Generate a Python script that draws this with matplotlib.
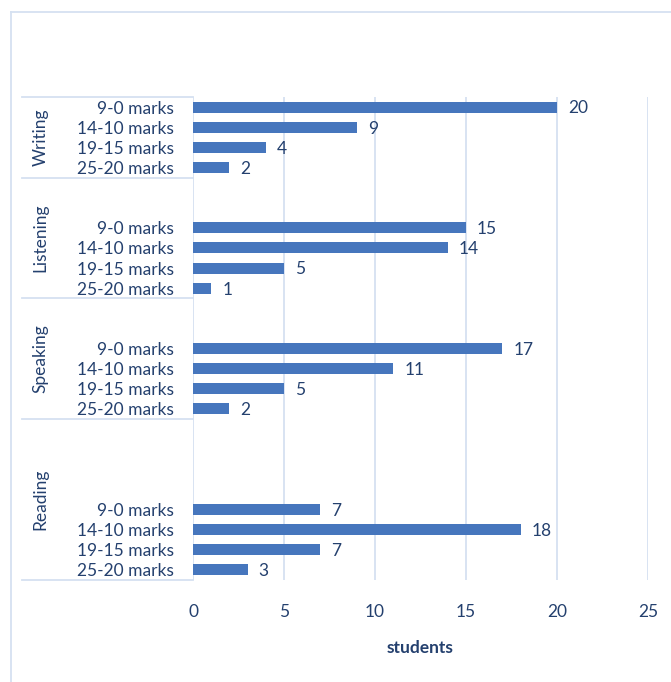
import numpy as np
import matplotlib.pyplot as plt
from matplotlib.lines import Line2D

groups = ["Writing", "Listening", "Speaking", "Reading"]
bands = ["9-0 marks", "14-10 marks", "19-15 marks", "25-20 marks"]
writing = [20, 9, 4, 2]
listening = [15, 14, 5, 1]
speaking = [17, 11, 5, 2]
reading = [7, 18, 7, 3]
values = [writing, listening, speaking, reading]
# blank category slots above each group's bars (as in the original sheet)
blank_slots = [0, 2, 2, 4]

text_col = "#24406e"
bar_col = "#4676bd"
line_col = "#d5e1f1"
fs = 12.5

plt.rcParams['font.family'] = ['Lato', 'DejaVu Sans']

fig = plt.figure(figsize=(6.71, 6.82), dpi=100)
ax = fig.add_axes([193/671, 1-580/682, 455/671, 483/682])

ypos = []
ylabels = []
bounds = [-0.5]
slot = 0
for g, vals in enumerate(values):
    start = slot
    slot += blank_slots[g]
    ys = np.arange(slot, slot + len(vals))
    ax.barh(ys, vals, height=0.55, color=bar_col, zorder=3)
    for y, v in zip(ys, vals):
        ax.annotate(str(v), (v, y), xytext=(8, -1), textcoords="offset points",
                    va="center", ha="left", fontsize=fs, color=text_col)
    ypos.extend(ys)
    ylabels.extend(bands)
    slot += len(vals)
    bounds.append(slot - 0.5)
    ax.text(-0.335, (start + slot - 1) / 2, groups[g], rotation=90,
            transform=ax.get_yaxis_transform(), ha="center", va="center",
            fontsize=fs, color=text_col)

for b in bounds:
    ax.plot([-0.376, 0], [b, b], transform=ax.get_yaxis_transform(),
            color=line_col, lw=1.3, clip_on=False)

ax.set_ylim(slot - 0.5, -0.5)
ax.set_xlim(0, 25)
ax.set_yticks(ypos)
ax.set_yticklabels(ylabels)
ax.set_xticks(range(0, 26, 5))
ax.tick_params(axis="both", length=0, labelsize=fs, labelcolor=text_col)
ax.tick_params(axis="y", pad=14)
ax.tick_params(axis="x", pad=17)
ax.grid(axis="x", color=line_col, lw=1.3, zorder=0)
for s in ax.spines.values():
    s.set_visible(False)
ax.set_xlabel("students", fontsize=fs, fontweight="bold", color=text_col, labelpad=15)

fig.add_artist(Line2D([11/671, 11/671], [0, 1-12/682], color=line_col, lw=1.3))
fig.add_artist(Line2D([11/671, 1], [1-12/682, 1-12/682], color=line_col, lw=1.3))

fig.savefig("out.png", dpi=100)
